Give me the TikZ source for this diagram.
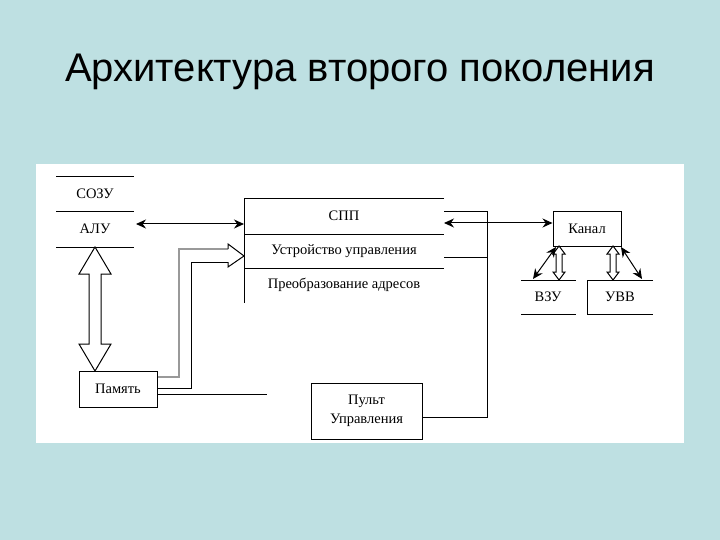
\documentclass[tikz,border=0pt]{standalone}
\usepackage{fontspec}
\setmainfont{Liberation Serif}
\newfontfamily\titlefont{Liberation Sans}
\usetikzlibrary{arrows.meta}
\definecolor{bg}{HTML}{BEE0E2}
\begin{document}
\begin{tikzpicture}[x=1pt,y=-1pt,
  ln/.style={line width=1pt},
  ar/.style={ln,{Stealth[length=10pt,width=9pt]}-{Stealth[length=10pt,width=9pt]}},
  txt/.style={font=\fontsize{14.5}{17}\selectfont,inner sep=0pt},
  box/.style={draw,ln,inner sep=0pt,font=\fontsize{14.5}{19}\selectfont,align=center}]
\fill[bg] (0,0) rectangle (720,540);
\useasboundingbox (0,0) rectangle (720,540);
\fill[white] (36,164) rectangle (684,443);
\node[font=\titlefont\fontsize{40}{44}\selectfont] (title) at (360,72) {Архитектура второго поколения};
% left stack
\draw[ln] (56,177) -- (134,177) (56,212) -- (134,212) (56,247) -- (134,247);
\node[txt] (sozu) at (95,194) {СОЗУ};
\node[txt] (alu) at (95,229) {АЛУ};
\coordinate (aluR) at (136,224);
% SPP
\draw[ln] (444,199) -- (244,199) -- (244,303);
\draw[ln] (244,234) -- (444,234) (244,268) -- (444,268);
\node[txt] (spp) at (344,216) {СПП};
\node[txt] (uu) at (344,251) {Устройство управления};
\node[txt] (pa) at (344,285) {Преобразование адресов};
\coordinate (sppL) at (244,224);
\draw[ar] (aluR) -- (sppL);
% memory
\node[box,minimum width=78pt,minimum height=36pt] (mem) at (118,389) {Память};
% vertical double arrow ALU <-> memory
\draw[ln,fill=white] (95,247) -- (111,274) -- (101,274) -- (101,344) -- (111,344) -- (95,371) -- (79,344) -- (89,344) -- (89,274) -- (79,274) -- cycle;
% gray double arrow to control unit
\draw[line width=1.3pt,gray!80] (mem.east |- 0,377) -- (179,377) -- (179,249) -- (228,249);
\draw[ln] (mem.east |- 0,388) -- (191,388) -- (191,262) -- (228,262);
\draw[ln,fill=white] (228,262) -- (228,267) -- (244,256) -- (228,244) -- (228,249);
\draw[ln] (mem.east |- 0,394) -- (267,394);
% pult
\node[box,minimum width=111pt,minimum height=56pt] (pult) at (366.5,411) {Пульт\\Управления};
\coordinate (c1) at (487,417);
\coordinate (c2) at (487,212);
\draw[ln] (pult.east |- c1) -- (c1) -- (c2) -- (444,212);
\draw[ln] (444,257) -- (487,257);
% kanal
\node[box,minimum width=68pt,minimum height=34pt] (kanal) at (587,229) {Канал};
\draw[ar] (444,223) -- (kanal.west |- 0,223);
% VZU, UVV
\draw[ln] (521,280) -- (576,280) (521,314) -- (576,314);
\node[txt] (vzu) at (548,297) {ВЗУ};
\draw[ln] (653,280) -- (587,280) -- (587,314) -- (653,314);
\node[txt] (uvv) at (620,297) {УВВ};
\foreach \x in {559,613}{
\draw[ln,fill=white] (\x,246) -- (\x+6,254) -- (\x+3,254) -- (\x+3,272) -- (\x+6,272) -- (\x,280) -- (\x-6,272) -- (\x-3,272) -- (\x-3,254) -- (\x-6,254) -- cycle;}
\draw[ar] (556,247) -- (533,279);
\draw[ar] (621,247) -- (642,279);
\end{tikzpicture}
\end{document}
